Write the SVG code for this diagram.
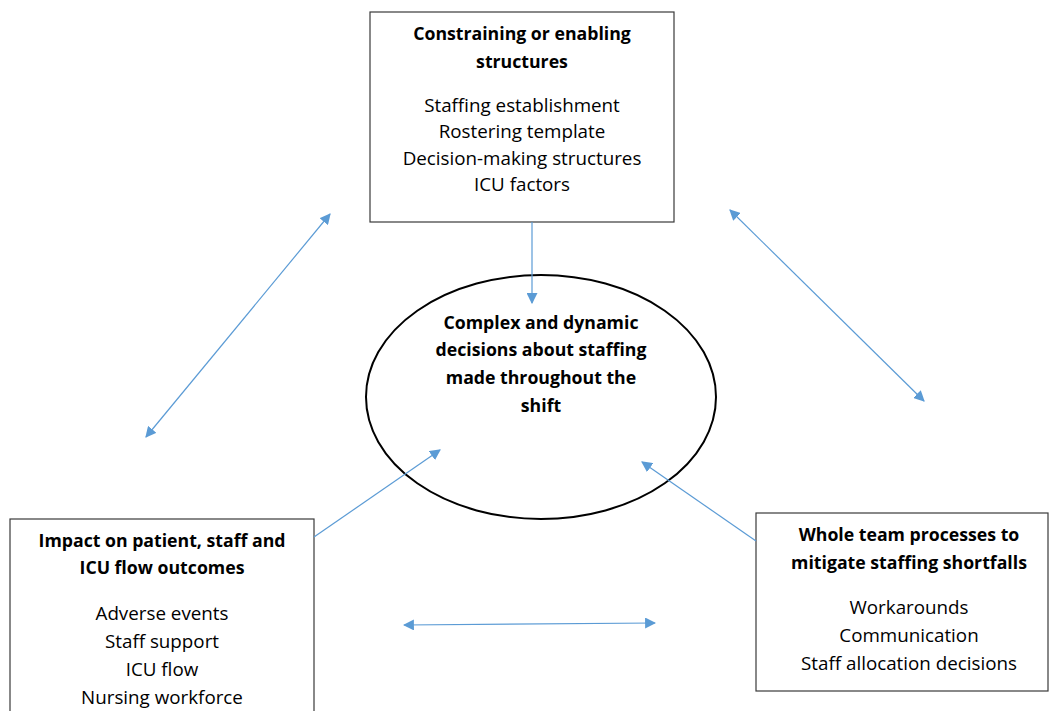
<svg xmlns="http://www.w3.org/2000/svg" width="1050" height="711" viewBox="0 0 1050 711">
<style>
.box{fill:#fff;stroke:#3a3a3a;stroke-width:1.2}
.ell{fill:#fff;stroke:#000;stroke-width:2}
text{font-family:"Open Sans","Liberation Sans",sans-serif;font-size:18.8px;fill:#000;text-anchor:middle}
.b{font-weight:bold;font-size:17.7px}
.c{stroke:#5B9BD5;stroke-width:1.2;fill:none}
</style>
<defs>
<marker id="ah" viewBox="0 0 10 10" refX="9" refY="5" markerWidth="11" markerHeight="11" markerUnits="userSpaceOnUse" orient="auto-start-reverse">
<path d="M0,0 L10,5 L0,10 z" fill="#5B9BD5"/>
</marker>
</defs>
<g id="node-top">
<rect class="box" x="370" y="12" width="304" height="210"/>
<text class="b" x="522" y="40">Constraining or enabling</text>
<text class="b" x="522" y="68">structures</text>
<text x="522" y="112">Staffing establishment</text>
<text x="522" y="138">Rostering template</text>
<text x="522" y="165">Decision-making structures</text>
<text x="522" y="191">ICU factors</text>
</g>
<g id="node-center">
<ellipse class="ell" cx="541" cy="397" rx="175" ry="122"/>
<text class="b" x="541" y="329">Complex and dynamic</text>
<text class="b" x="541" y="356">decisions about staffing</text>
<text class="b" x="541" y="384">made throughout the</text>
<text class="b" x="541" y="412">shift</text>
</g>
<g id="node-left">
<rect class="box" x="10" y="519" width="304" height="200"/>
<text class="b" x="162" y="547">Impact on patient, staff and</text>
<text class="b" x="162" y="574">ICU flow outcomes</text>
<text x="162" y="620">Adverse events</text>
<text x="162" y="648">Staff support</text>
<text x="162" y="676">ICU flow</text>
<text x="162" y="704">Nursing workforce</text>
</g>
<g id="node-right">
<rect class="box" x="756" y="513" width="292" height="178"/>
<text class="b" x="909" y="541">Whole team processes to</text>
<text class="b" x="909" y="569">mitigate staffing shortfalls</text>
<text x="909" y="614">Workarounds</text>
<text x="909" y="642">Communication</text>
<text x="909" y="670">Staff allocation decisions</text>
</g>
<g id="connectors">
<line class="c" x1="532" y1="222" x2="532" y2="303" marker-end="url(#ah)"/>
<line class="c" x1="146" y1="437" x2="330" y2="214" marker-start="url(#ah)" marker-end="url(#ah)"/>
<line class="c" x1="730" y1="210" x2="924" y2="401" marker-start="url(#ah)" marker-end="url(#ah)"/>
<line class="c" x1="404" y1="625" x2="655" y2="623" marker-start="url(#ah)" marker-end="url(#ah)"/>
<line class="c" x1="314" y1="537" x2="440" y2="450" marker-end="url(#ah)"/>
<line class="c" x1="756" y1="541" x2="642" y2="462" marker-end="url(#ah)"/>
</g>
</svg>
